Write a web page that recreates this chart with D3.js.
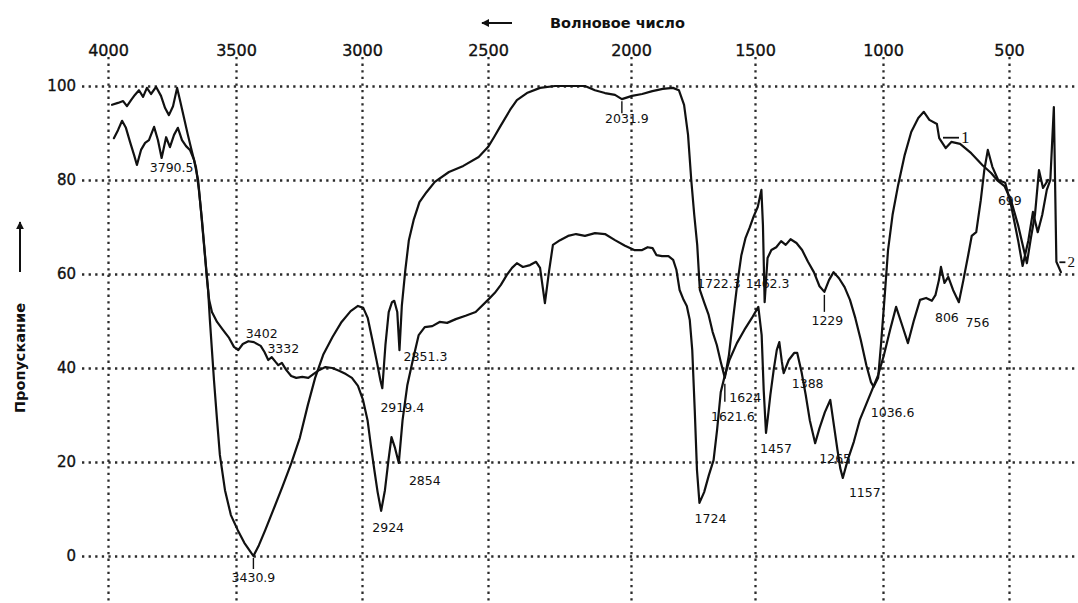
<!DOCTYPE html>
<html>
<head>
<meta charset="utf-8">
<script src="https://cdn.jsdelivr.net/npm/d3@7"></script>
<style>
  body { margin: 0; background: #fff; }
  svg { display: block; }
</style>
</head>
<body>
<svg id="chart" width="1078" height="603"></svg>
<script>
// ---- data ----
const xTicks = [4000, 3500, 3000, 2500, 2000, 1500, 1000, 500];
const yTicks = [0, 20, 40, 60, 80, 100];
const xTitle = "Волновое число";
const yTitle = "Пропускание";
const seriesNames = ["1", "2"];

// spectrum 1: wavenumber (cm-1) and transmittance (%)
const wave1 = [3984, 3961, 3941, 3926, 3910, 3895, 3879, 3863, 3848, 3832, 3812, 3793, 3777, 3762, 3746, 3730, 3719, 3703, 3688, 3672,
  3656, 3645, 3633, 3621, 3609, 3602, 3594, 3586, 3574, 3563, 3543, 3520, 3493, 3467, 3445, 3430.9, 3409, 3384, 3352, 3316,
  3280, 3247, 3215, 3186, 3154, 3117, 3081, 3045, 3016, 2995, 2977, 2959, 2941, 2927, 2919.4, 2907, 2894, 2881, 2872, 2860,
  2851.3, 2842, 2828, 2814, 2795, 2772, 2744, 2711, 2655, 2598, 2537, 2500, 2479, 2458, 2423, 2399, 2364, 2318, 2266, 2206,
  2161, 2126, 2091, 2056, 2031.9, 1996, 1955, 1914, 1872, 1831, 1807, 1786, 1770, 1757, 1745, 1733, 1722.3, 1704, 1687, 1671,
  1654, 1638, 1621.6, 1605, 1588, 1572, 1555, 1538, 1522, 1505, 1489, 1475, 1469, 1462.3, 1451, 1436, 1417, 1398, 1380, 1361,
  1338, 1316, 1293, 1270, 1248, 1229, 1211, 1193, 1172, 1150, 1129, 1108, 1087, 1065, 1047, 1036.6, 1019, 1008, 993, 980,
  962, 940, 914, 888, 860, 838, 816, 786, 777, 751, 729, 694, 650, 606, 571, 544, 518, 492, 464, 441,
  429, 413, 397, 381, 365, 345];
const trans1 = [96.0, 96.4, 96.8, 95.7, 97.0, 98.1, 99.1, 97.7, 99.6, 98.3, 99.8, 97.9, 95.3, 93.8, 95.7, 99.6, 97.0, 93.2, 89.6, 86.0,
  82.6, 77.9, 71.5, 64.0, 56.6, 50.2, 43.8, 37.4, 28.9, 21.5, 14.0, 8.7, 5.5, 2.8, 1.1, 0, 2.3, 5.5, 9.8, 14.7,
  19.8, 25.1, 32.1, 37.9, 42.8, 46.6, 49.8, 52.1, 53.2, 52.8, 50.6, 46.0, 41.3, 37.4, 35.7, 44.9, 51.9, 54.0, 54.3, 51.9,
  43.8, 53.2, 60.9, 67.2, 71.5, 75.3, 77.4, 79.6, 81.7, 83.0, 84.9, 87.0, 89.1, 91.3, 94.9, 97.0, 98.5, 99.6, 100, 100,
  100, 99.1, 98.5, 98.1, 97.2, 97.9, 98.3, 98.9, 99.4, 99.6, 99.1, 96.0, 89.6, 80.0, 72.6, 66.2, 56.6, 53.8, 51.3, 47.7,
  44.9, 41.3, 37.9, 42.8, 50.6, 57.7, 64.0, 67.7, 69.8, 72.3, 74.3, 77.9, 70.4, 54.0, 63.4, 65.1, 65.7, 67.0, 66.2, 67.4,
  66.6, 65.1, 62.6, 60.4, 57.4, 56.2, 58.7, 60.4, 59.1, 57.2, 54.5, 50.6, 46.0, 40.6, 37.0, 36.0, 37.9, 44.9, 55.5, 65.1,
  72.6, 78.9, 85.3, 90.2, 93.2, 94.5, 92.8, 91.9, 88.9, 86.8, 88.1, 87.7, 85.7, 83.2, 81.5, 79.8, 78.7, 75.7, 70.4, 65.1,
  62.3, 67.7, 72.6, 82.1, 78.3, 80.0];

// spectrum 2
const wave2 = [3977, 3961, 3945, 3930, 3914, 3898, 3887, 3871, 3855, 3840, 3820, 3805, 3790.5, 3773, 3758, 3742, 3727, 3711, 3695, 3680,
  3664, 3648, 3637, 3625, 3613, 3605, 3594, 3574, 3551, 3527, 3508, 3491, 3473, 3451, 3429, 3402, 3387, 3372, 3358, 3343,
  3332, 3318, 3301, 3281, 3261, 3237, 3213, 3193, 3169, 3145, 3118, 3091, 3064, 3040, 3016, 2996, 2978, 2965, 2951, 2938,
  2924, 2909, 2895, 2883, 2869, 2854, 2839, 2820, 2800, 2775, 2751, 2721, 2692, 2662, 2628, 2589, 2549, 2500, 2476, 2455,
  2434, 2416, 2399, 2378, 2353, 2332, 2318, 2301, 2287, 2273, 2248, 2220, 2192, 2161, 2126, 2091, 2056, 2021, 1987, 1955,
  1933, 1913, 1897, 1875, 1849, 1830, 1817, 1804, 1788, 1775, 1763, 1753, 1743, 1734, 1724, 1705, 1686, 1667, 1653, 1638,
  1624, 1603, 1573, 1543, 1513, 1487, 1474, 1466, 1457, 1450, 1440, 1427, 1415, 1405, 1395, 1388, 1368, 1347, 1335, 1318,
  1302, 1286, 1265, 1248, 1227, 1206, 1192, 1178, 1167, 1157, 1138, 1114, 1091, 1067, 1043, 1019, 996, 972, 948, 924,
  901, 877, 853, 829, 806, 792, 778, 770, 756, 741, 722, 699, 681, 662, 648, 630, 612, 598, 584, 566,
  543, 515, 492, 464, 446, 423, 405, 386, 368, 350, 336, 322, 312, 294];
const trans2 = [88.9, 90.6, 92.6, 91.1, 88.1, 85.3, 83.2, 86.4, 87.9, 88.5, 91.3, 88.5, 84.7, 89.1, 87.0, 89.6, 91.1, 88.5, 87.2, 86.4,
  84.3, 80.0, 73.6, 66.2, 58.7, 54.5, 51.9, 49.8, 48.1, 46.4, 44.5, 43.8, 45.1, 45.7, 45.5, 44.7, 43.4, 41.7, 42.3, 41.3,
  40.6, 41.1, 39.6, 38.3, 37.9, 38.1, 37.9, 38.7, 39.6, 40.2, 40.0, 39.4, 38.7, 37.9, 36.2, 33.2, 28.9, 23.6, 18.3, 13.6,
  9.6, 14.0, 20.4, 25.3, 23.0, 19.8, 28.9, 36.4, 41.3, 47.0, 48.7, 48.9, 49.8, 49.6, 50.4, 51.1, 51.9, 54.5, 56.0, 57.7,
  59.8, 61.3, 62.3, 61.5, 61.9, 62.6, 61.3, 53.8, 60.4, 66.2, 67.2, 68.1, 68.5, 68.1, 68.7, 68.5, 67.2, 66.0, 65.1, 65.1,
  65.7, 65.5, 64.0, 63.8, 63.8, 63.0, 60.9, 56.6, 54.5, 53.2, 50.2, 43.8, 31.1, 18.3, 11.3, 13.6, 17.2, 20.4, 26.8, 34.9,
  37.9, 41.7, 45.3, 48.1, 50.6, 53.0, 47.0, 35.3, 26.2, 29.4, 34.3, 39.6, 43.8, 45.5, 41.3, 38.9, 41.7, 43.2, 43.2, 39.1,
  34.3, 28.9, 24.0, 27.2, 30.6, 33.2, 27.9, 22.6, 18.7, 16.6, 20.4, 24.3, 28.9, 32.1, 35.3, 38.5, 42.8, 48.1, 53.0, 49.1,
  45.3, 50.2, 54.5, 54.9, 54.3, 55.5, 58.7, 61.5, 58.1, 59.4, 56.6, 54.0, 58.7, 64.0, 68.1, 68.9, 75.7, 82.1, 86.4, 82.8,
  80.0, 79.4, 74.7, 67.2, 61.7, 67.2, 73.2, 68.9, 72.6, 77.9, 80.0, 95.5, 62.6, 60.4];

// labelled band positions (cm-1)
const peaks1 = [3430.9, 2919.4, 2851.3, 2031.9, 1722.3, 1621.6, 1462.3, 1229, 1036.6];
const peaks2 = [3790.5, 3402, 3332, 2924, 2854, 1724, 1624, 1457, 1388, 1265, 1157, 806, 756, 699];

// ---- layout ----
const W = 1078, H = 603;
const gridLeft = 82, gridTop = 57;
// the printed wavenumber grid is not perfectly even, so the scale follows it tick by tick
const x = d3.scaleLinear().domain(xTicks).range([108, 236, 362, 488, 631, 755, 883, 1009]);
const y = d3.scaleLinear().domain([0, 100]).range([556, 86]);

// label placement offsets (px) relative to the band point
const labelOffset1 = {
  "3430.9": [0, 26], "2919.4": [20, 24], "2851.3": [26, 11], "2031.9": [5, 24], "1722.3": [19, -2],
  "1621.6": [8, 43], "1462.3": [3, -14], "1229": [3, 33], "1036.6": [19, 30]
};
const labelOffset2 = {
  "3790.5": [10, 14], "3402": [1, -8], "3332": [5, -12], "2924": [7, 21], "2854": [26, 22],
  "1724": [11, 20], "1624": [21, 24], "1457": [10, 20], "1388": [24, 15], "1265": [20, 20],
  "1157": [22, 19], "806": [15, 21], "756": [33, 44], "699": [51, -97]
};
// short leader strokes under some bands: [from, to] px below the point
const leaders1 = { "3430.9": [2, 13], "2031.9": [2, 14], "1621.6": [6, 24], "1229": [3, 20] };

const svg = d3.select("#chart");
const FONT = "DejaVu Sans, Verdana, sans-serif";
const INK = "#111";

// ---- dotted grid ----
const gridStyle = g => {
  g.select(".domain").remove();
  g.selectAll(".tick line")
    .attr("stroke", "#2b2b2b")
    .attr("stroke-width", 2.3)
    .attr("stroke-dasharray", "2.3 4.3");
};
svg.append("g")
  .attr("transform", `translate(0,${gridTop})`)
  .call(d3.axisBottom(x).tickValues(xTicks).tickSize(H - gridTop).tickFormat(""))
  .call(gridStyle);
svg.append("g")
  .attr("transform", `translate(${gridLeft},0)`)
  .call(d3.axisLeft(y).tickValues(yTicks).tickSize(-(W - gridLeft)).tickFormat(""))
  .call(gridStyle);

// ---- tick labels ----
const xAxis = svg.append("g")
  .attr("transform", "translate(0,56)")
  .call(d3.axisTop(x).tickValues(xTicks).tickSize(0).tickPadding(0).tickFormat(d3.format("d")));
xAxis.select(".domain").remove();
xAxis.selectAll("text").attr("font-family", FONT).attr("font-size", 16).attr("fill", INK)
  .attr("stroke", INK).attr("stroke-width", 0.35);

const yAxis = svg.append("g")
  .attr("transform", `translate(${gridLeft},0)`)
  .call(d3.axisLeft(y).tickValues(yTicks).tickSize(0).tickPadding(6).tickFormat(d3.format("d")));
yAxis.select(".domain").remove();
yAxis.selectAll("text").attr("font-family", FONT).attr("font-size", 15).attr("fill", INK)
  .attr("stroke", INK).attr("stroke-width", 0.35);

// ---- axis titles ----
const defs = svg.append("defs");
defs.append("marker").attr("id", "head")
  .attr("viewBox", "0 0 10 10").attr("refX", 9).attr("refY", 5)
  .attr("markerWidth", 4).attr("markerHeight", 4).attr("orient", "auto-start-reverse")
  .append("path").attr("d", "M0,0 L10,5 L0,10 z").attr("fill", INK);

svg.append("line").attr("x1", 512).attr("x2", 482).attr("y1", 23).attr("y2", 23)
  .attr("stroke", INK).attr("stroke-width", 2).attr("marker-end", "url(#head)");
svg.append("text").attr("x", 550).attr("y", 28).text(xTitle)
  .attr("font-family", FONT).attr("font-size", 14.5).attr("font-weight", "bold").attr("fill", INK);

svg.append("line").attr("x1", 20).attr("x2", 20).attr("y1", 272).attr("y2", 222)
  .attr("stroke", INK).attr("stroke-width", 2).attr("marker-end", "url(#head)");
svg.append("text").attr("transform", "translate(25,358) rotate(-90)")
  .attr("text-anchor", "middle").text(yTitle)
  .attr("font-family", FONT).attr("font-size", 14.5).attr("font-weight", "bold").attr("fill", INK);

// ---- spectra ----
const line = d3.line().x(d => x(d[0])).y(d => y(d[1]));
const series = [
  { name: seriesNames[0], pts: d3.zip(wave1, trans1), peaks: peaks1, off: labelOffset1, leaders: leaders1 },
  { name: seriesNames[1], pts: d3.zip(wave2, trans2), peaks: peaks2, off: labelOffset2, leaders: {} }
];

svg.append("g").selectAll("path").data(series).join("path")
  .attr("d", s => line(s.pts))
  .attr("fill", "none").attr("stroke", INK).attr("stroke-width", 2.2)
  .attr("stroke-linejoin", "round").attr("stroke-linecap", "round");

// band labels
series.forEach(s => {
  const byWave = new Map(s.pts.map(p => [p[0], p[1]]));
  const g = svg.append("g").attr("font-family", FONT).attr("font-size", 12.5).attr("fill", INK);
  s.peaks.forEach(v => {
    const t = byWave.get(v);
    const px = x(v), py = y(t);
    const [dx, dy] = s.off[String(v)];
    if (s.leaders[String(v)]) {
      const [a, b] = s.leaders[String(v)];
      g.append("line").attr("x1", px).attr("x2", px).attr("y1", py + a).attr("y2", py + b)
        .attr("stroke", INK).attr("stroke-width", 1.4);
    }
    g.append("text").attr("x", px + dx).attr("y", py + dy)
      .attr("text-anchor", "middle").text(String(v));
  });
});

// curve numbers
const tag = (wave, trans, label, len, size) => {
  const px = x(wave), py = y(trans);
  svg.append("line").attr("x1", px).attr("x2", px + len).attr("y1", py).attr("y2", py)
    .attr("stroke", INK).attr("stroke-width", 1.8);
  svg.append("text").attr("x", px + len + 2).attr("y", py + 5).text(label)
    .attr("font-family", "Liberation Serif, serif").attr("font-size", size).attr("fill", INK);
};
tag(762, 89, seriesNames[0], 16, 17);
tag(300, 62.5, seriesNames[1], 6, 15);
</script>
</body>
</html>
